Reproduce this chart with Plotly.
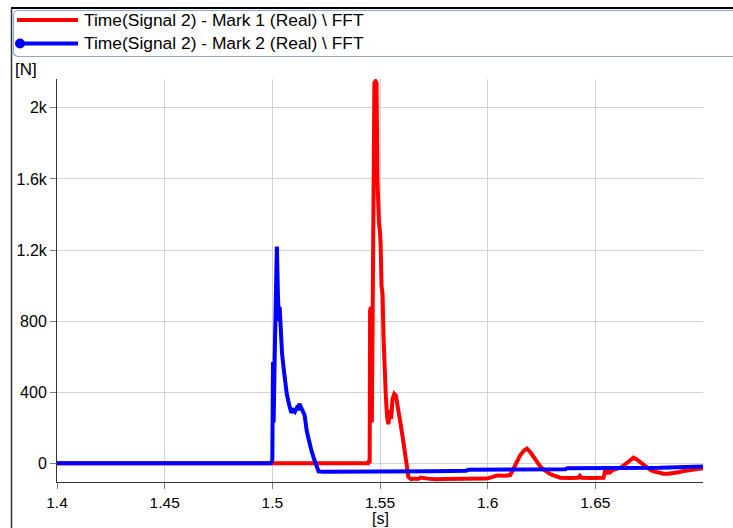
import plotly.graph_objects as go

# ---------------- data ----------------
mark1_t = [1.4, 1.5, 1.5445, 1.5449, 1.5452, 1.5454, 1.5458, 1.5462, 1.5466, 1.5470,
           1.5474, 1.5479, 1.5484, 1.5488, 1.5492, 1.5495, 1.5500, 1.5503, 1.5507,
           1.5512, 1.5516, 1.5522, 1.5527, 1.5533, 1.5539, 1.5546, 1.5552, 1.5558,
           1.5566, 1.5574, 1.5582, 1.5593, 1.5605, 1.5617, 1.5625, 1.5632, 1.5645,
           1.5660, 1.5675, 1.5690, 1.5720, 1.5760, 1.5800, 1.5850, 1.5900, 1.5950,
           1.5996, 1.6020, 1.6045, 1.6080, 1.6105, 1.6120, 1.6135, 1.6151, 1.6167,
           1.6182, 1.6197, 1.6213, 1.6228, 1.6244, 1.6260, 1.6275, 1.6290, 1.6306,
           1.6320, 1.6337, 1.6380, 1.6420, 1.6428, 1.6436, 1.6480, 1.6520, 1.6538,
           1.6546, 1.6552, 1.6560, 1.6568, 1.6580, 1.6600, 1.6616, 1.6632, 1.6647,
           1.6662, 1.6677, 1.6692, 1.6708, 1.6724, 1.6740, 1.6755, 1.6771, 1.6794,
           1.6817, 1.6840, 1.6863, 1.6886, 1.6910, 1.6933, 1.6956, 1.6980, 1.7]
mark1_v = [0, 0, 0, 15, 0, 860, 880, 230, 870, 1600,
           2140, 2150, 2140, 1600, 1420, 1360, 1300, 1230, 1000,
           950, 720, 480, 380, 260, 220, 300, 250, 360,
           390, 380, 330, 240, 150, 55, -20, -77, -90,
           -85, -88, -80, -86, -90, -88, -87, -86, -88,
           -86, -78, -68, -70, -66, -30, 5, 45, 70,
           83, 65, 36, 10, -17, -35, -49, -60, -68,
           -76, -81, -82, -81, -70, -81, -82, -81, -81,
           -39, -60, -35, -50, -38, -33, -24, -12, 2,
           18, 32, 22, 7, -8, -24, -36, -45, -52,
           -58, -58, -56, -50, -43, -38, -34, -31, -28]

mark2_t = [1.4, 1.4990, 1.4998, 1.5000, 1.5003, 1.5006, 1.5011, 1.5018, 1.5021,
           1.5026, 1.5030, 1.5034, 1.5038, 1.5045, 1.5052, 1.5060, 1.5067, 1.5078,
           1.5088, 1.5097, 1.5105, 1.5113, 1.5120, 1.5126, 1.5132, 1.5140, 1.5150,
           1.5160, 1.5170, 1.5182, 1.5195, 1.5205, 1.5215, 1.5235, 1.5500, 1.5750,
           1.5900, 1.5910, 1.6360, 1.6370, 1.6800, 1.7]
mark2_v = [0, 0, 10, 20, 570, 230, 600, 1220, 1220,
           950, 800, 880, 760, 620, 540, 430, 390, 330,
           285, 300, 290, 310, 300, 335, 320, 305, 270,
           180, 120, 70, 20, -20, -45, -48, -48, -44,
           -42, -36, -33, -27, -25, -18]

series_names = ["Time(Signal 2) - Mark 1 (Real) \\ FFT",
                "Time(Signal 2) - Mark 2 (Real) \\ FFT"]
x_ticks = [1.4, 1.45, 1.5, 1.55, 1.6, 1.65]
x_tick_text = ["1.4", "1.45", "1.5", "1.55", "1.6", "1.65"]
y_ticks = [0, 400, 800, 1200, 1600, 2000]
y_tick_text = ["0", "400", "800", "1.2k", "1.6k", "2k"]
y_unit = "[N]"
x_unit = "[s]"

# ---------------- layout geometry ----------------
W, H = 733, 528
L, R, T, B = 57, 30, 79, 46
PW, PH = W - L - R, H - T - B


def px(x):
    return (x - L) / PW


def py(y):
    return (H - B - y) / PH


FONT = "Liberation Sans, Arial, sans-serif"
RED = "#ff0000"
BLUE = "#0000ff"

fig = go.Figure()
fig.add_trace(go.Scatter(x=mark1_t, y=mark1_v, mode="lines", name=series_names[0],
                         line=dict(color=RED, width=4), showlegend=False))
fig.add_trace(go.Scatter(x=mark2_t, y=mark2_v, mode="lines", name=series_names[1],
                         line=dict(color=BLUE, width=4), showlegend=False))

shapes = []
# outer frame
shapes.append(dict(type="line", xref="paper", yref="paper", x0=px(11), x1=px(740),
                   y0=py(8), y1=py(8), line=dict(color="#000000", width=2)))
shapes.append(dict(type="line", xref="paper", yref="paper", x0=px(11.5), x1=px(11.5),
                   y0=py(8), y1=py(540), line=dict(color="#333333", width=1.5)))
# legend box with rounded corners
x0b, x1b, y0b, y1b, r = 13.5, 745, 10.5, 56.5, 5
path = (f"M {px(x0b + r)},{py(y0b)} L {px(x1b)},{py(y0b)} L {px(x1b)},{py(y1b)} "
        f"L {px(x0b + r)},{py(y1b)} Q {px(x0b)},{py(y1b)} {px(x0b)},{py(y1b - r)} "
        f"L {px(x0b)},{py(y0b + r)} Q {px(x0b)},{py(y0b)} {px(x0b + r)},{py(y0b)} Z")
shapes.append(dict(type="path", xref="paper", yref="paper", path=path,
                   line=dict(color="#8ea8cc", width=1.2)))
# legend samples
shapes.append(dict(type="line", xref="paper", yref="paper", x0=px(17), x1=px(78),
                   y0=py(20), y1=py(20), line=dict(color=RED, width=4)))
shapes.append(dict(type="line", xref="paper", yref="paper", x0=px(20), x1=px(78),
                   y0=py(43.5), y1=py(43.5), line=dict(color=BLUE, width=4)))
shapes.append(dict(type="circle", xref="paper", yref="paper", x0=px(15), x1=px(25),
                   y0=py(38.5), y1=py(48.5), fillcolor=BLUE, line=dict(color=BLUE, width=0)))

annotations = [
    dict(text=series_names[0], x=px(82), y=py(20), xanchor="left", yanchor="middle",
         size=17.4),
    dict(text=series_names[1], x=px(82), y=py(43.5), xanchor="left", yanchor="middle",
         size=17.4),
    dict(text=y_unit, x=px(13), y=py(70), xanchor="left", yanchor="middle", size=17),
    dict(text=x_unit, x=px(380), y=py(518.5), xanchor="center", yanchor="middle",
         size=16),
]
for a in annotations:
    s = a.pop("size")
    a.update(xref="paper", yref="paper", showarrow=False,
             font=dict(family=FONT, size=s, color="#000000"))

fig.update_layout(
    width=W, height=H,
    margin=dict(l=L, r=R, t=T, b=B, pad=0),
    paper_bgcolor="#ffffff", plot_bgcolor="#ffffff",
    shapes=shapes, annotations=annotations,
    showlegend=False,
    font=dict(family=FONT, size=16, color="#000000"),
)
fig.update_xaxes(range=[1.4, 1.7], tickvals=x_ticks, ticktext=x_tick_text,
                 showgrid=True, gridcolor="#d2d2d2", gridwidth=1,
                 ticks="outside", ticklen=6, tickcolor="#808080",
                 showline=True, linecolor="#333333", linewidth=1, zeroline=False,
                 tickfont=dict(family=FONT, size=15.5, color="#000000"))
fig.update_yaxes(range=[-105, 2162], tickvals=y_ticks, ticktext=y_tick_text,
                 showgrid=True, gridcolor="#d2d2d2", gridwidth=1,
                 ticks="outside", ticklen=6, tickcolor="#808080",
                 showline=True, linecolor="#333333", linewidth=1, zeroline=False,
                 tickfont=dict(family=FONT, size=16, color="#000000"))

fig.write_html("out.html", config={"displayModeBar": False},
               post_script="document.body.style.margin='0';document.body.style.overflow='hidden';")
